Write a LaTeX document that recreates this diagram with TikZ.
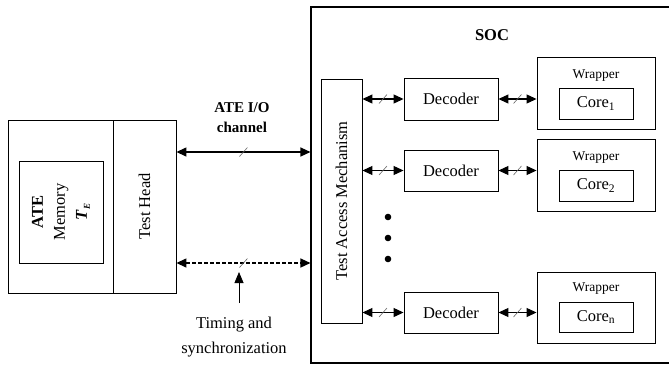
\documentclass[tikz,border=0pt]{standalone}
\usepackage{fontspec}
\setmainfont{Liberation Serif}
\usetikzlibrary{arrows.meta,decorations.markings}
\begin{document}
\begin{tikzpicture}[x=1pt,y=-1pt,
  box/.style={draw, line width=0.9pt, inner sep=0pt, anchor=center},
  txt/.style={font=\fontsize{16.5}{22}\selectfont},
  small/.style={font=\fontsize{13.5}{16}\selectfont},
  bus/.style={line width=1.1pt, {Triangle[length=10pt,width=9pt]}-{Triangle[length=10pt,width=9pt]},
    postaction={decorate},
    decoration={markings, mark=at position 0.5 with {\draw[-, solid, line width=0.6pt, black!60] (-4pt,-4.5pt) -- (4pt,4.5pt);}}},
  ]
\useasboundingbox (0,0) rectangle (669,365);
\clip (0,0) rectangle (669,365);

% ATE side
\node[box, minimum width=105pt, minimum height=173pt] (ate) at (60.5,206.5) {};
\node[box, rotate=90, minimum width=173pt, minimum height=63pt, txt] (th) at (144.5,206.5) {Test Head};
\node[box, rotate=90, minimum width=102pt, minimum height=84pt, txt, align=center] (mem) at (61,212)
  {\textbf{ATE}\\Memory\\\textbf{\textit{T}}\raisebox{-3pt}{\fontsize{9}{9}\selectfont\textbf{\textit{E}}}};

% SOC
\node[box, line width=1.1pt, minimum width=370pt, minimum height=356pt] (soc) at (496,185) {};
\node[font=\bfseries\fontsize{16.5}{20}\selectfont] (soclab) at (492,35) {SOC};

\node[box, rotate=90, minimum width=244pt, minimum height=41pt, txt] (tam) at (341.5,201) {Test Access Mechanism};

\node[box, minimum width=94pt, minimum height=42pt, txt] (d1) at (451,99) {Decoder};
\node[box, minimum width=94pt, minimum height=41pt, txt] (d2) at (451,170.5) {Decoder};
\node[box, minimum width=94pt, minimum height=41pt, txt] (dn) at (451,312.5) {Decoder};

\node[box, minimum width=118pt, minimum height=72pt] (w1) at (596,93) {};
\node[box, minimum width=118pt, minimum height=72pt] (w2) at (596,175) {};
\node[box, minimum width=118pt, minimum height=71pt] (wn) at (596,307.5) {};

\node[small] (wl1) at (596,76) {Wrapper};
\node[small] (wl2) at (596,158) {Wrapper};
\node[small] (wln) at (596,289) {Wrapper};

\node[box, minimum width=74pt, minimum height=31pt, txt] (c1) at (596,103.5) {Core\textsubscript{1}};
\node[box, minimum width=74pt, minimum height=31pt, txt] (c2) at (596,185.5) {Core\textsubscript{2}};
\node[box, minimum width=74pt, minimum height=30pt, txt] (cn) at (596,317) {Core\textsubscript{n}};

% dots
\fill (388,217) circle (3.3pt);
\fill (388,238) circle (3.3pt);
\fill (388,259) circle (3.3pt);

% internal buses
\draw[bus] (tam.south |- d1.west) -- (d1.west);
\draw[bus] (tam.south |- d2.west) -- (d2.west);
\draw[bus] (tam.south |- dn.west) -- (dn.west);
\draw[bus] (d1.east) -- (w1.west |- d1.east);
\draw[bus] (d2.east) -- (w2.west |- d2.east);
\draw[bus] (dn.east) -- (wn.west |- dn.east);

% ATE channels
\coordinate (chan) at (240,152);
\coordinate (sync) at (240,263);
\draw[bus, line width=1.4pt] (th.south |- chan) -- (soc.west |- chan);
\draw[bus, line width=1.4pt, dash pattern=on 4pt off 2pt] (th.south |- sync) -- (soc.west |- sync);

\node[font=\bfseries\fontsize{15}{20}\selectfont, align=center] (chl) at (242,118) {ATE I/O\\channel};
\node[align=center, font=\fontsize{16.5}{25}\selectfont] (tim) at (234,337) {Timing and\\synchronization};
\coordinate (tarr) at (239,303);
\draw[line width=0.8pt, -{Triangle[length=11pt,width=9pt]}] (tarr) -- ([yshift=-9pt]tarr |- sync);
\end{tikzpicture}
\end{document}
